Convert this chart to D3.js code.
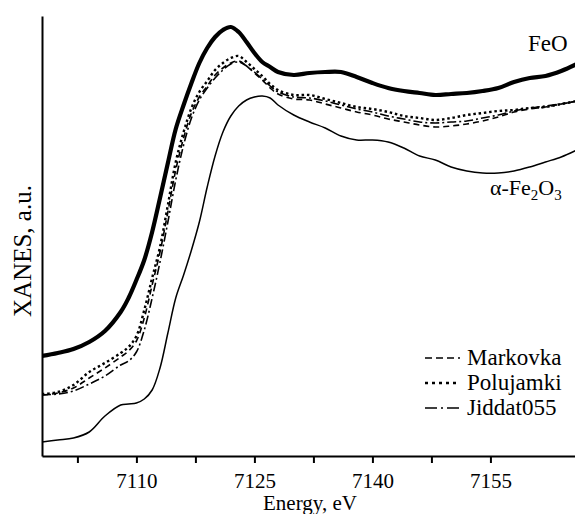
<!DOCTYPE html>
<html>
<head>
<meta charset="utf-8">
<script src="https://cdn.jsdelivr.net/npm/d3@7"></script>
<style>
  body { margin: 0; background: #fff; }
  svg { display: block; }
</style>
</head>
<body>
<svg id="chart" width="575" height="514"></svg>
<script>
// energy grid, eV
var energy = [7098,7100,7102,7104,7106,7108,7109,7110,7111,7112,7113,7114,7115,7116,7117,7118,7119,7120,7121,7122,7123,7124,7125,7126,7127,7128,7130,7132,7134,7136,7138,7140,7142,7144,7146,7148,7150,7152,7154,7156,7158,7160,7162,7164,7166];

// XANES, a.u. (curves offset as in the figure)
var feo = [10.0,10.3,10.7,11.4,12.5,14.4,15.8,17.6,19.6,22.4,25.8,29.3,32.7,35.1,37.3,39.3,40.8,41.9,42.6,42.9,42.4,41.4,40.3,39.4,38.9,38.4,38.1,38.3,38.4,38.4,37.9,37.3,36.8,36.5,36.3,36.1,36.2,36.3,36.5,36.8,37.4,37.8,38.0,38.5,39.2];
var markovka = [6.1,6.3,6.8,7.8,8.8,9.9,10.5,11.5,13.8,17.1,20.4,24.4,28.6,31.8,34.3,35.9,37.0,38.1,38.8,39.3,39.5,39.0,38.3,37.6,36.8,36.2,35.7,35.6,35.2,34.8,34.4,34.1,33.7,33.4,33.1,32.9,33.0,33.2,33.5,33.9,34.4,34.7,34.9,35.2,35.5];
var polujamki = [6.2,6.4,7.1,8.4,9.3,10.3,10.9,12.0,14.6,17.8,20.9,25.1,29.4,32.4,34.8,36.4,37.5,38.6,39.3,39.8,40.0,39.4,38.7,38.0,37.2,36.6,36.1,36.1,35.7,35.3,34.9,34.7,34.4,34.0,33.8,33.6,33.8,34.1,34.3,34.5,34.6,34.8,34.9,35.2,35.5];
var jiddat = [6.1,6.2,6.5,7.2,8.0,9.1,9.5,10.4,12.6,15.8,19.4,23.4,27.6,31.1,33.8,35.6,36.8,37.8,38.6,39.2,39.4,39.0,38.4,37.7,37.0,36.4,35.9,35.8,35.5,35.1,34.7,34.4,34.0,33.7,33.4,33.3,33.4,33.5,33.8,34.1,34.5,34.8,35.0,35.2,35.5];
var fe2o3 = [1.4,1.6,1.8,2.4,4.0,5.1,5.2,5.3,5.7,6.6,8.8,12.3,15.8,18.1,20.6,23.4,26.9,30.0,32.4,34.0,35.0,35.6,35.9,36.0,35.8,35.1,34.1,33.4,32.8,32.0,31.6,31.6,31.4,30.8,30.0,29.6,28.9,28.5,28.3,28.3,28.5,28.9,29.4,29.9,30.6];

var xTicks = [7102.5,7110,7117.5,7125,7132.5,7140,7147.5,7155];
var legendNames = ["Markovka","Polujamki","Jiddat055"];

var serif = "'Liberation Serif', 'Times New Roman', serif";
var screen = { width: 575, height: 514 };
var margins = { top: 16, bottom: 58, left: 42, right: 0 };

var svg = d3.select("#chart");

var xScale = d3.scaleLinear()
  .domain([7098, 7165.75])
  .range([margins.left, screen.width - margins.right]);
var yScale = d3.scaleLinear()
  .domain([0, 44])
  .range([screen.height - margins.bottom, margins.top]);

svg.append("defs").append("clipPath").attr("id", "plot")
  .append("rect")
  .attr("x", margins.left).attr("y", 0)
  .attr("width", screen.width - margins.left)
  .attr("height", screen.height - margins.bottom);

var series = [
  { name: "FeO", values: feo, width: 4.2, dash: null },
  { name: "Markovka", values: markovka, width: 1.6, dash: "6,4" },
  { name: "Polujamki", values: polujamki, width: 2.4, dash: "2.5,2.8" },
  { name: "Jiddat055", values: jiddat, width: 1.6, dash: "9,3,2,3" },
  { name: "Fe2O3", values: fe2o3, width: 1.5, dash: null }
];

var line = d3.line()
  .x(function(d) { return xScale(d[0]); })
  .y(function(d) { return yScale(d[1]); })
  .curve(d3.curveCatmullRom.alpha(0.5));

var plot = svg.append("g").attr("clip-path", "url(#plot)");
plot.selectAll("path")
  .data(series)
  .enter()
  .append("path")
  .attr("d", function(s) { return line(energy.map(function(e, i) { return [e, s.values[i]]; })); })
  .attr("fill", "none")
  .attr("stroke", "#000")
  .attr("stroke-width", function(s) { return s.width; })
  .attr("stroke-dasharray", function(s) { return s.dash; })
  .attr("stroke-linejoin", "round");

// axes
var xAxis = svg.append("g")
  .attr("transform", "translate(0," + (screen.height - margins.bottom) + ")")
  .call(d3.axisBottom(xScale)
    .tickValues(xTicks)
    .tickSize(7)
    .tickSizeOuter(0)
    .tickPadding(10)
    .tickFormat(function(d) { return d % 15 === 0 ? d : ""; }));
xAxis.attr("font-family", serif).attr("font-size", 21);
xAxis.select(".domain").attr("stroke-width", 2);
xAxis.selectAll(".tick line").attr("stroke-width", 2);
xAxis.selectAll("text").attr("fill", "#000");

var yAxis = svg.append("g")
  .attr("transform", "translate(" + margins.left + ",0)")
  .call(d3.axisLeft(yScale).tickValues([]).tickSizeOuter(0));
yAxis.select(".domain").attr("stroke-width", 2);

svg.append("text")
  .attr("x", 310).attr("y", 510)
  .attr("text-anchor", "middle")
  .attr("font-family", serif)
  .attr("font-size", 21)
  .text("Energy, eV");

svg.append("text")
  .attr("transform", "translate(31,251) rotate(-90)")
  .attr("text-anchor", "middle")
  .attr("font-family", serif)
  .attr("font-size", 25)
  .text("XANES, a.u.");

// curve labels
svg.append("text")
  .attr("x", 528).attr("y", 51)
  .attr("font-family", serif)
  .attr("font-size", 23)
  .text("FeO");

var fe = svg.append("text")
  .attr("x", 490).attr("y", 195)
  .attr("font-family", serif)
  .attr("font-size", 22);
fe.append("tspan").text("\u03b1-Fe");
fe.append("tspan").attr("font-size", 15).attr("dy", 5).text("2");
fe.append("tspan").attr("dy", -5).text("O");
fe.append("tspan").attr("font-size", 15).attr("dy", 5).text("3");

// legend
var legend = svg.append("g").attr("transform", "translate(425,358)");
var legendItems = legend.selectAll("g")
  .data(legendNames)
  .enter()
  .append("g")
  .attr("transform", function(d, i) { return "translate(0," + (i * 25) + ")"; });
legendItems.append("line")
  .attr("x1", 0).attr("x2", 35)
  .attr("y1", 0).attr("y2", 0)
  .attr("stroke", "#000")
  .attr("stroke-width", function(d) { return series.find(function(s) { return s.name === d; }).width; })
  .attr("stroke-dasharray", function(d, i) { return ["7,4", "3,4", "12,4,2,4"][i]; });
legendItems.append("text")
  .attr("x", 42).attr("y", 7)
  .attr("font-family", serif)
  .attr("font-size", 23)
  .text(function(d) { return d; });
</script>
</body>
</html>
